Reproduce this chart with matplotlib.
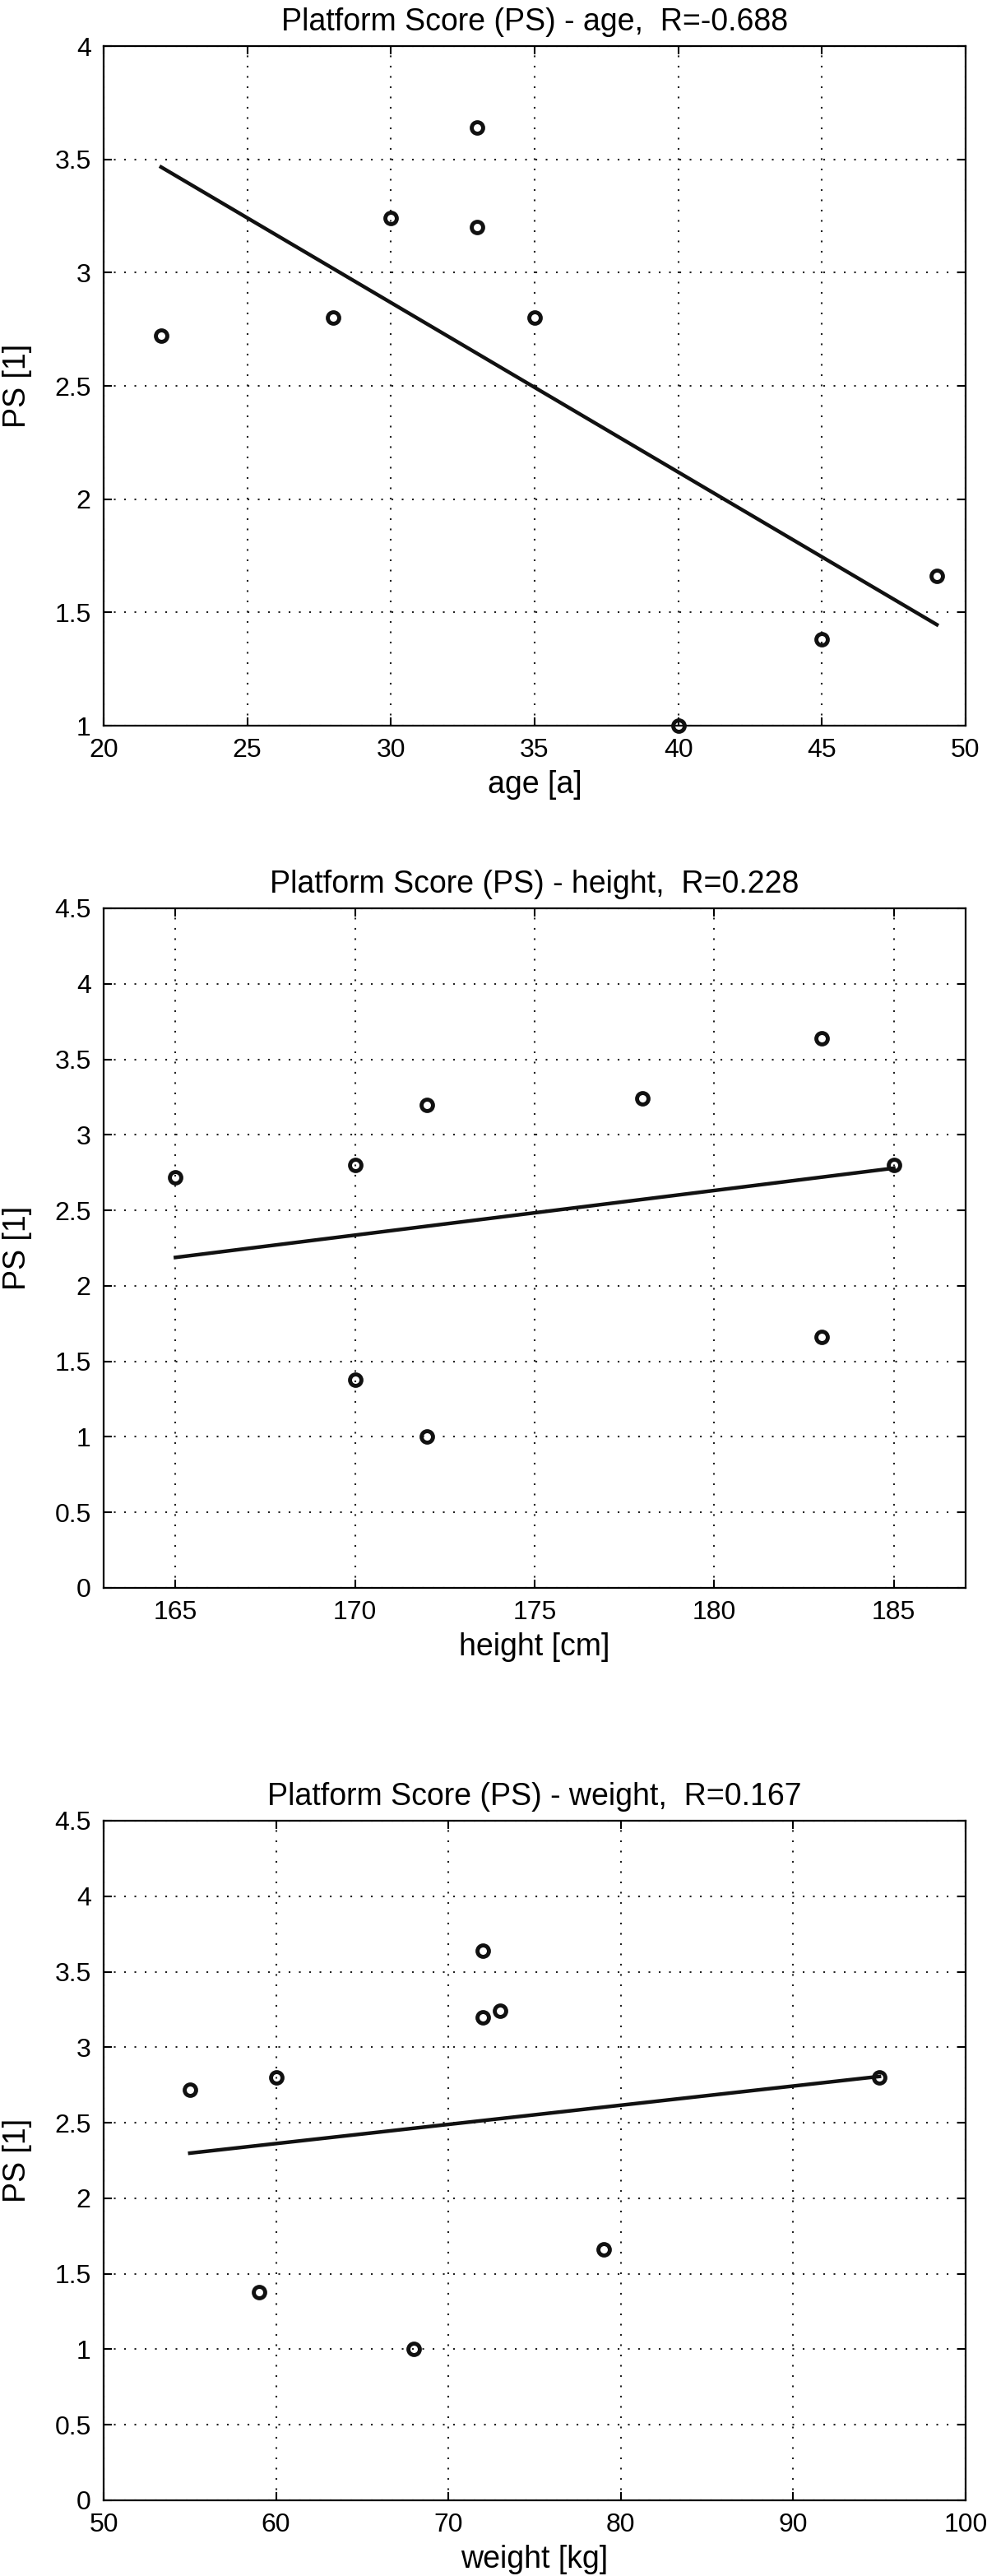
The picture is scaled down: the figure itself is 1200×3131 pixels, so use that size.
import matplotlib
matplotlib.use("Agg")
import matplotlib.pyplot as plt
from matplotlib import rcParams
import numpy as np

rcParams['font.family'] = ['Liberation Sans', 'DejaVu Sans']
rcParams['font.size'] = 23
rcParams['xtick.direction'] = 'in'
rcParams['ytick.direction'] = 'in'
rcParams['xtick.top'] = True
rcParams['ytick.right'] = True
rcParams['xtick.major.size'] = 7
rcParams['ytick.major.size'] = 7
rcParams['xtick.major.width'] = 1.5
rcParams['ytick.major.width'] = 1.5
rcParams['xtick.major.pad'] = 11
rcParams['ytick.major.pad'] = 11
rcParams['xtick.labelsize'] = 23
rcParams['ytick.labelsize'] = 23
rcParams['axes.labelsize'] = 27
rcParams['axes.titlesize'] = 27
rcParams['axes.linewidth'] = 1.6

# platform score per subject
ps = [2.72, 2.80, 3.24, 3.64, 3.20, 2.80, 1.00, 1.38, 1.66]
age = [22, 28, 30, 33, 33, 35, 40, 45, 49]
height = [165, 170, 178, 183, 172, 185, 172, 170, 183]
weight = [55, 60, 73, 72, 72, 95, 68, 59, 79]

panels = [
    dict(x=age, title="Platform Score (PS) - age,  R=-0.688", xlabel="age [a]",
         xlim=(20, 50), xticks=np.arange(20, 51, 5), ylim=(1, 4), yticks=np.arange(1, 4.01, 0.5),
         pos=[0.105, 0.7183, 0.8733, 0.2638]),
    dict(x=height, title="Platform Score (PS) - height,  R=0.228", xlabel="height [cm]",
         xlim=(163, 187), xticks=np.arange(165, 186, 5), ylim=(0, 4.5), yticks=np.arange(0, 4.51, 0.5),
         pos=[0.105, 0.3836, 0.8733, 0.2638]),
    dict(x=weight, title="Platform Score (PS) - weight,  R=0.167", xlabel="weight [kg]",
         xlim=(50, 100), xticks=np.arange(50, 101, 10), ylim=(0, 4.5), yticks=np.arange(0, 4.51, 0.5),
         pos=[0.105, 0.0294, 0.8733, 0.2638]),
]


def fmt(v):
    return f"{v:g}"


fig = plt.figure(figsize=(12, 31.31), dpi=100)

for p in panels:
    ax = fig.add_axes(p['pos'])
    x = np.array(p['x'], dtype=float)
    y = np.array(ps)
    k, b = np.polyfit(x, y, 1)
    xs = np.array([x.min(), x.max()])
    ax.plot(xs, k * xs + b, color="#111111", linewidth=3.2, zorder=3)
    ax.plot(x, y, "o", markerfacecolor="none", markeredgecolor="#111111",
            markersize=10, markeredgewidth=3.5, zorder=4, clip_on=False)
    ax.set_xlim(*p['xlim'])
    ax.set_ylim(*p['ylim'])
    ax.set_xticks(p['xticks'])
    ax.set_yticks(p['yticks'])
    ax.set_xticklabels([fmt(v) for v in p['xticks']])
    ax.set_yticklabels([fmt(v) for v in p['yticks']])
    ax.grid(True, color="#222222", linestyle=(0, (1, 5)), linewidth=1.5)
    ax.set_axisbelow(True)
    ax.set_title(p['title'], pad=14)
    ax.set_xlabel(p['xlabel'], labelpad=6)
    ax.set_ylabel("PS [1]", labelpad=20)

fig.savefig("out.png", dpi=100)
